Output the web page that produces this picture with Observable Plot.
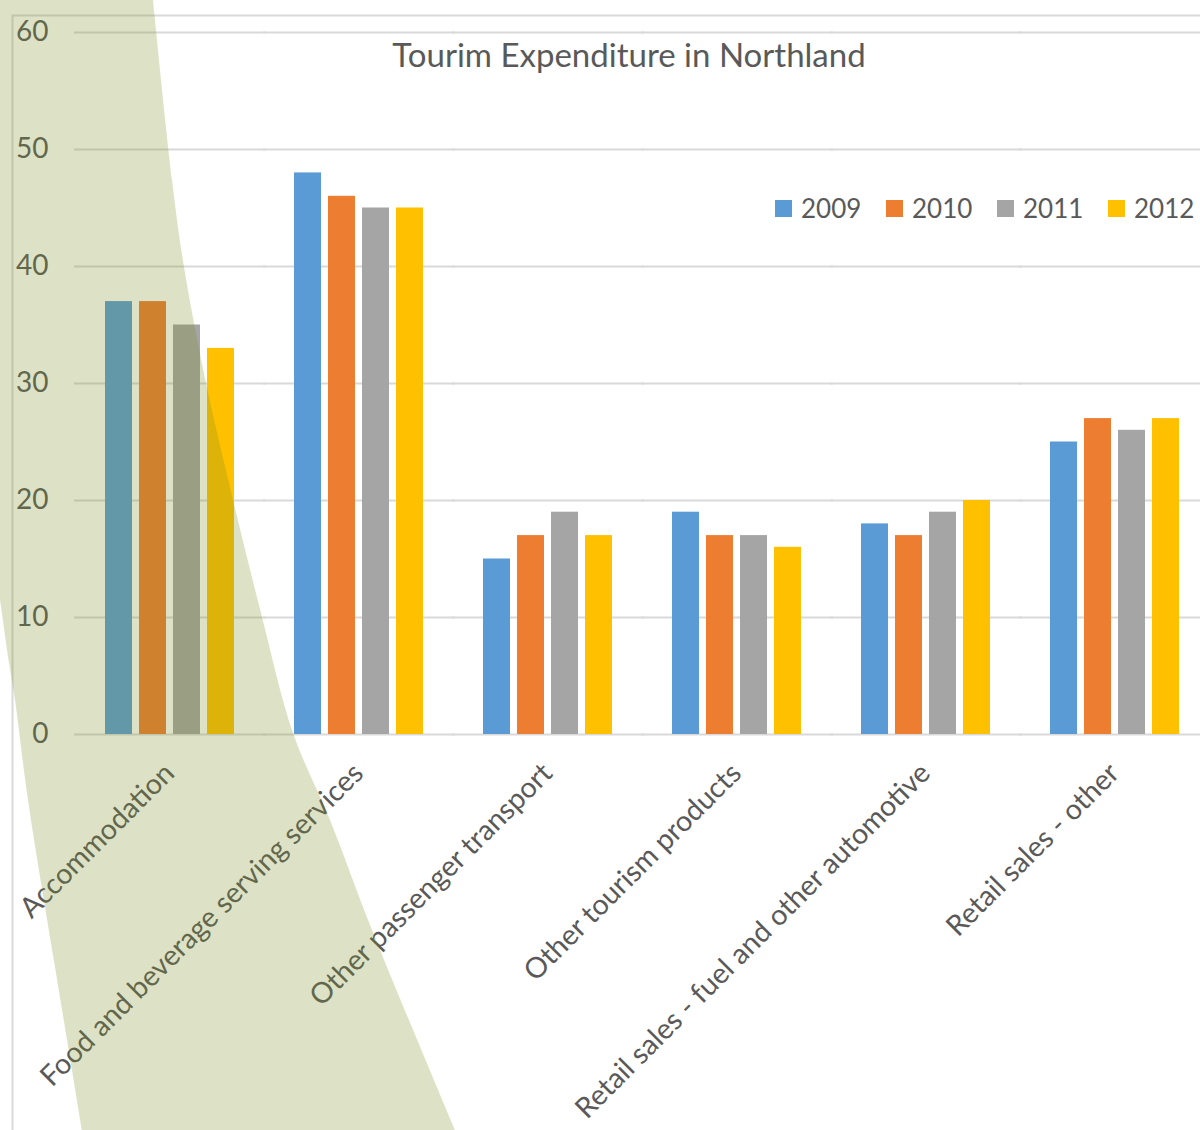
<!DOCTYPE html>
<html><head><meta charset="utf-8">
<script src="https://cdn.jsdelivr.net/npm/d3@7"></script>
<script src="https://cdn.jsdelivr.net/npm/@observablehq/plot@0.6"></script>
<style>
html,body{margin:0;padding:0;background:#fff;overflow:hidden;width:1200px;height:1130px}
#wrap{position:relative;width:1200px;height:1130px;overflow:hidden;font-family:Lato,sans-serif}
#wrap svg{position:absolute;left:0;top:0;max-width:none !important}
</style></head><body><div id="wrap"></div><script>
const categories = ["Accommodation","Food and beverage serving services","Other passenger transport","Other tourism products","Retail sales - fuel and other automotive","Retail sales - other"];
const years = ["2009","2010","2011","2012"];
const v2009 = [37,48,15,19,18,25];
const v2010 = [37,46,17,17,17,27];
const v2011 = [35,45,19,17,19,26];
const v2012 = [33,45,17,16,20,27];
const yearColors = ["#5b9bd5","#ed7d31","#a5a5a5","#ffc000"];
const yTicks = [0,10,20,30,40,50,60];
const titleText = "Tourim Expenditure in Northland";

const series = [v2009, v2010, v2011, v2012];
const data = categories.flatMap((c,i)=>years.map((y,j)=>({category:c, year:y, value:series[j][i]})));

const wrap = document.getElementById("wrap");

const chart = Plot.plot({
  width: 1210, height: 1130,
  marginLeft: 75, marginRight: 0, marginTop: 32, marginBottom: 396,
  style: {fontFamily: "Lato, sans-serif", color: "#595959", background: "transparent", overflow: "visible", maxWidth: "none"},
  fx: {domain: categories, paddingInner: 0.31, paddingOuter: 0.155, label: null},
  x: {domain: years, paddingInner: 0.2, paddingOuter: 0, axis: null},
  y: {domain: [0,60], label: null},
  color: {domain: years, range: yearColors},
  marks: [
    Plot.ruleY(yTicks, {stroke: "#d9d9d9", strokeWidth: 2, insetLeft: -31, insetRight: -31}),
    Plot.barY(data, {fx: "category", x: "year", y: "value", fill: "year"}),
    Plot.axisY({ticks: yTicks, tickSize: 0, tickPadding: 57, fontSize: 28, fill: "#595959", anchor: "left"}),
    Plot.axisFx({anchor: "bottom", tickSize: 0, tickRotate: -45, tickPadding: 34, dx: -1, fontSize: 28.5, fill: "#595959"})
  ]
});
wrap.appendChild(chart);

// overlay: title, legend, chart border and decorative band
const ov = d3.select(wrap).append("svg").attr("width",1200).attr("height",1130)
  .style("font-family","Lato, sans-serif").style("pointer-events","none");

ov.append("path").attr("d","M12.5,1140 V15.5 H1210").attr("fill","none").attr("stroke","#d9d9d9").attr("stroke-width",2);

ov.append("text").attr("x",629).attr("y",67).attr("text-anchor","middle")
  .attr("font-size",33).attr("fill","#595959").text(titleText);

const lg = ov.append("g").attr("transform","translate(775,200)");
years.forEach((y,i)=>{
  const g = lg.append("g").attr("transform",`translate(${i*111},0)`);
  g.append("rect").attr("width",17).attr("height",17).attr("fill",yearColors[i]);
  g.append("text").attr("x",26).attr("y",17.5).attr("font-size",26).attr("fill","#595959").text(y);
});

const band = d3.line().curve(d3.curveCatmullRom)([
  [153,0],[172,180],[184,267],[206,383],[233,500],[262,617],[293,733],[330,820],[372,930],[455,1130]
]);
const bandLeft = d3.line().curve(d3.curveCatmullRom)([
  [82,1130],[55,967],[28,800],[15,700],[7,650],[0,600],[-10,540]
]);
ov.append("path")
  .attr("d", "M-10,-10 L153,-10 " + band.replace(/^M/,"L") + " L455,1140 L82,1140 " + bandLeft.replace(/^M/,"L") + " Z")
  .attr("fill","rgb(125,144,37)").attr("fill-opacity",0.26);
</script></body></html>
